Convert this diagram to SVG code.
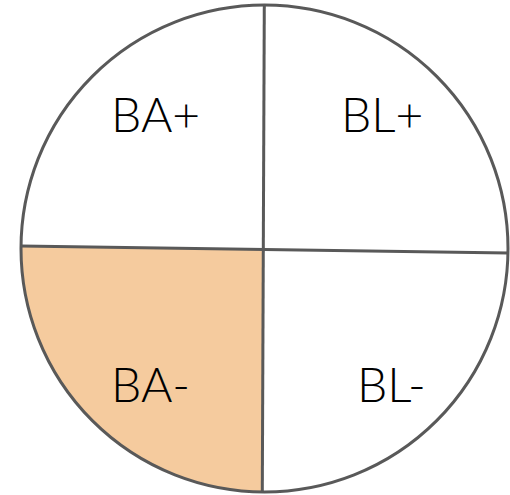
<svg xmlns="http://www.w3.org/2000/svg" width="510" height="495" viewBox="0 0 510 495">
<style>
.ln{stroke:#595959;stroke-width:3;fill:none}
.lb{font-family:Lato,"Noto Sans","DejaVu Sans",sans-serif;font-weight:300;font-size:48px;fill:#000}
</style>
<rect width="510" height="495" fill="#fff"/>
<g id="quadrant-ba-minus">
<path d="M21,246 L263.3,249.5 L262.3,492 A243.5,243.5 0 0 1 21,246 Z" fill="#F5CB9E"/>
</g>
<g id="circle">
<circle class="ln" cx="264.5" cy="248.5" r="243.5"/>
</g>
<g id="connectors">
<line class="ln" x1="21" y1="246" x2="508" y2="253"/>
<line class="ln" x1="264.3" y1="5" x2="262.3" y2="492"/>
</g>
<g id="label-ba-plus"><text class="lb" x="111" y="132">BA+</text></g>
<g id="label-bl-plus"><text class="lb" x="341" y="132">BL+</text></g>
<g id="label-ba-minus"><text class="lb" x="111" y="402">BA-</text></g>
<g id="label-bl-minus"><text class="lb" x="357" y="402">BL-</text></g>
</svg>
